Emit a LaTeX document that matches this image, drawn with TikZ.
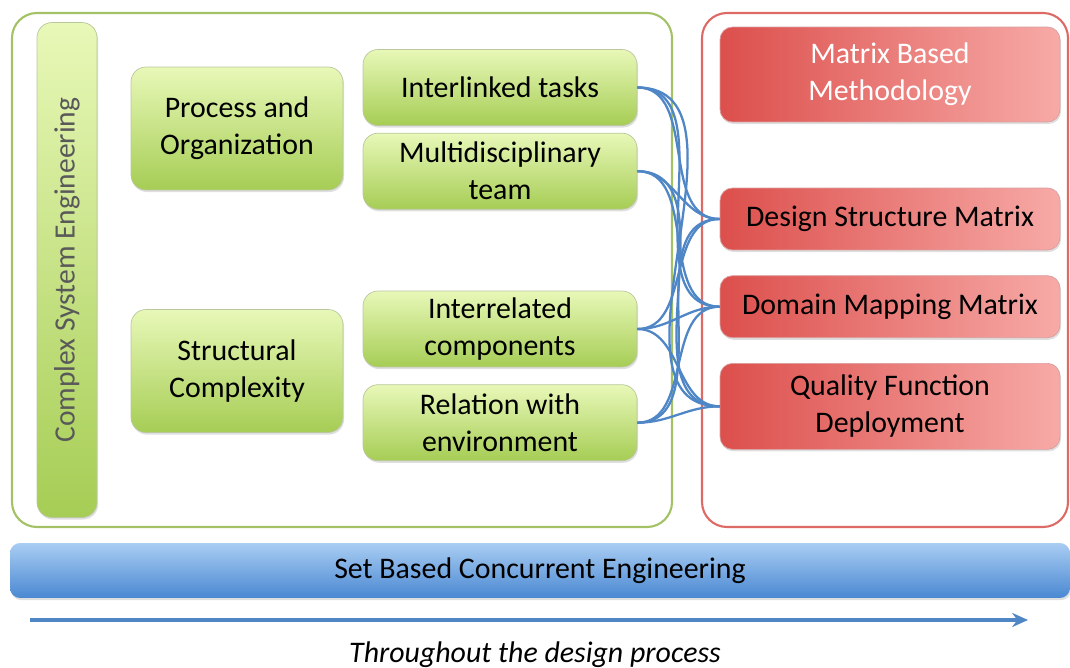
\documentclass[tikz,border=0pt]{standalone}
\usepackage{fontspec}
\setmainfont{Carlito}
\usetikzlibrary{positioning,shadows,arrows.meta}
\definecolor{frgreen}{HTML}{A3C165}
\definecolor{grtop}{HTML}{E8F8B8}
\definecolor{grbot}{HTML}{A6CD55}
\definecolor{frred}{HTML}{DE6A66}
\definecolor{rdleft}{HTML}{DC4F4C}
\definecolor{rdright}{HTML}{F7AAA7}
\definecolor{bltop}{HTML}{A9CDF3}
\definecolor{blbot}{HTML}{4A88D2}
\definecolor{linkblue}{HTML}{4F86C6}
\tikzstyle{frame}=[rounded corners=0.5cm,line width=1.2pt]
\tikzstyle{topic}=[rectangle,rounded corners=0.3cm,draw=grbot!70!black!50,top color=grtop,bottom color=grbot,
  align=center,font=\fontsize{17}{21}\selectfont,drop shadow={opacity=0.25,shadow xshift=0.6pt,shadow yshift=-1.2pt}]
\tikzstyle{method}=[rectangle,rounded corners=0.25cm,draw=rdleft!80!black!50,left color=rdleft,right color=rdright,
  align=center,font=\fontsize{17}{21}\selectfont,minimum width=6.8cm,drop shadow={opacity=0.25,shadow xshift=0.6pt,shadow yshift=-1.2pt}]
\tikzstyle{link}=[linkblue,line width=1.3pt,out=0,in=180]

\begin{document}
\begin{tikzpicture}[x=0.02cm,y=-0.02cm]
            \useasboundingbox (0,0) rectangle (1070,668);
            \draw[frame,frgreen] (12,13) rectangle (672,527);
            \draw[frame,frred] (702,13) rectangle (1068,527);

            \node[topic,rotate=90,minimum width=9.9cm,minimum height=1.2cm] (cse) at (67,270) {};
            \node[rotate=90,text=black!65,font=\fontsize{16.8}{20}\selectfont] (cset) at (cse.center) {Complex System Engineering};

            \node[topic,minimum width=4.24cm,minimum height=2.46cm] (po) at (237,128.5) {Process and\\Organization};
            \node[topic,minimum width=4.24cm,minimum height=2.46cm] (sc) at (237,371) {Structural\\Complexity};

            \node[topic,minimum width=5.48cm,minimum height=1.52cm] (it) at (500,87.5) {Interlinked tasks};
            \node[topic,minimum width=5.48cm,minimum height=1.52cm] (mt) [below=0.14cm of it] {Multidisciplinary\\team};
            \node[topic,minimum width=5.48cm,minimum height=1.52cm] (ic) at (500,329) {Interrelated\\components};
            \node[topic,minimum width=5.48cm,minimum height=1.52cm] (re) [below=0.34cm of ic] {Relation with\\environment};

            \node[method,minimum height=1.9cm,text=white] (mbm) at (890,74.5) {Matrix Based\\Methodology};
            \node[method,minimum height=1.24cm] (dsm) at (890,219) {Design Structure Matrix};
            \node[method,minimum height=1.24cm] (dmm) [below=0.5cm of dsm] {Domain Mapping Matrix};
            \node[method,minimum height=1.72cm] (qfd) [below=0.5cm of dmm] {Quality Function\\Deployment};

            \path[link] (it.east) edge (dsm.west) edge (dmm.west) edge (qfd.west);
            \path[link] (mt.east) edge (dsm.west) edge (dmm.west) edge (qfd.west);
            \path[link] (ic.east) edge (dsm.west) edge (dmm.west) edge (qfd.west);
            \path[link] (re.east) edge (dsm.west) edge (dmm.west) edge (qfd.west);

            \node[rectangle,rounded corners=0.2cm,top color=bltop,bottom color=blbot,minimum width=21.2cm,minimum height=1.1cm,
              font=\fontsize{17}{21}\selectfont,drop shadow={opacity=0.25,shadow xshift=0.6pt,shadow yshift=-1.2pt}] (sbce) at (540,570.5) {Set Based Concurrent Engineering};

            \coordinate (t0) at (30,620);
            \coordinate (t1) at (1028,620);
            \draw[linkblue,line width=2pt,-{Stealth[length=9pt,width=8pt]}] (t0) -- (t1);
            \node[font=\fontsize{17}{21}\selectfont\itshape] (tdp) at (535,655) {Throughout the design process};
        \end{tikzpicture}
\end{document}
